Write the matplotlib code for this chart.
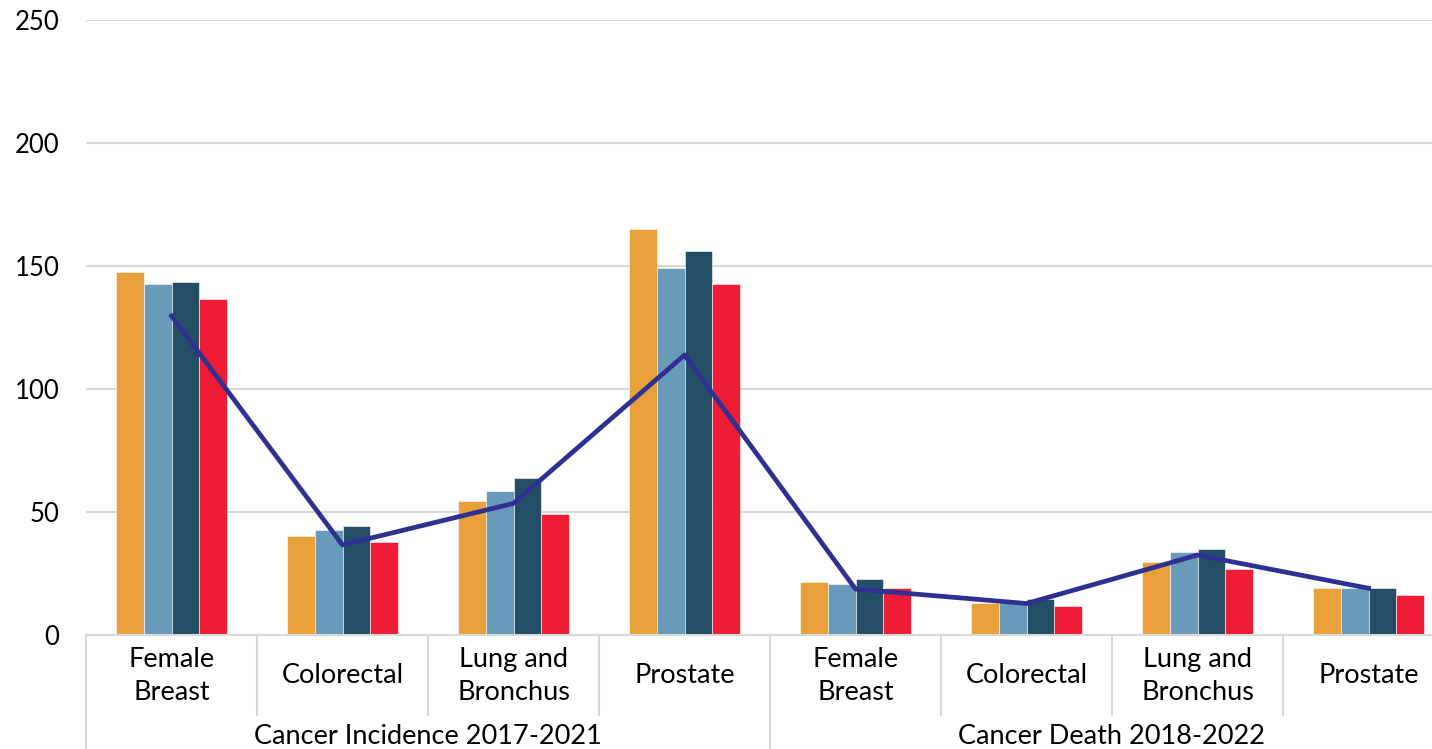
import matplotlib.pyplot as plt
import numpy as np

#--categories and groups
cats=['Female\nBreast','Colorectal','Lung and\nBronchus','Prostate',
      'Female\nBreast','Colorectal','Lung and\nBronchus','Prostate']
groups=['Cancer Incidence 2017-2021','Cancer Death 2018-2022']

#--bar series (rates per 100,000)
s1=[147.5,40.2,54.6,165.0,21.7,12.9,29.5,19.0]
s2=[142.7,42.7,58.7,149.3,20.6,12.9,33.9,19.3]
s3=[143.5,44.3,64.0,156.1,22.6,14.5,34.8,19.1]
s4=[136.5,37.8,49.0,142.7,19.1,11.8,26.7,16.3]
#--line series
s_line=[129.7,36.6,53.5,113.8,18.7,12.8,32.5,19.0]

cols=['#E9A03B','#6A9ABA','#244D66','#EF1C36']
navy='#2E3092'
grid='#D9D9D9'

plt.rcParams['font.family']=['Lato','DejaVu Sans']

fig=plt.figure(figsize=(14.32,7.49),dpi=100)
#--plot area runs past the right edge of the picture, as in the reference
ax=fig.add_axes([86/1432,(749-635)/749,1368/1432,615/749])

x=np.arange(len(cats))
w=0.161
for i,s in enumerate([s1,s2,s3,s4]):
  ax.bar(x+(i-1.5)*w,s,width=w,color=cols[i],edgecolor='white',linewidth=0.4,zorder=2)
ax.plot(x,s_line,c=navy,linewidth=3.4,zorder=3)

ax.set_xlim(-0.5,len(cats)-0.5)
ax.set_ylim(0,250)
ax.set_yticks(np.arange(0,251,50))
ax.yaxis.grid(True,color=grid,linewidth=1.5,zorder=0)
ax.set_axisbelow(True)
for sp in ['top','right','left']:
  ax.spines[sp].set_visible(False)
ax.spines['bottom'].set_color(grid)
ax.spines['bottom'].set_linewidth(1.5)
ax.tick_params(axis='y',length=0,labelsize=18.5,pad=19,labelcolor='black')
ax.tick_params(axis='x',length=0,labelbottom=False)

#--multi-level category axis
tr=ax.get_xaxis_transform()
for i,c in enumerate(cats):
  ax.text(i,-0.066,c,transform=tr,ha='center',va='center',fontsize=19.5,linespacing=1.4)
for b in np.arange(-0.5,len(cats),1.0):
  outer=(b in (-0.5,3.5,7.5))
  ax.plot([b,b],[0,-0.2 if outer else -0.13],transform=tr,c=grid,linewidth=1.5,clip_on=False)
for g,name in enumerate(groups):
  ax.text(1.5+4*g,-0.165,name,transform=tr,ha='center',va='center',fontsize=19.5)

plt.savefig('out.png',dpi=100)
